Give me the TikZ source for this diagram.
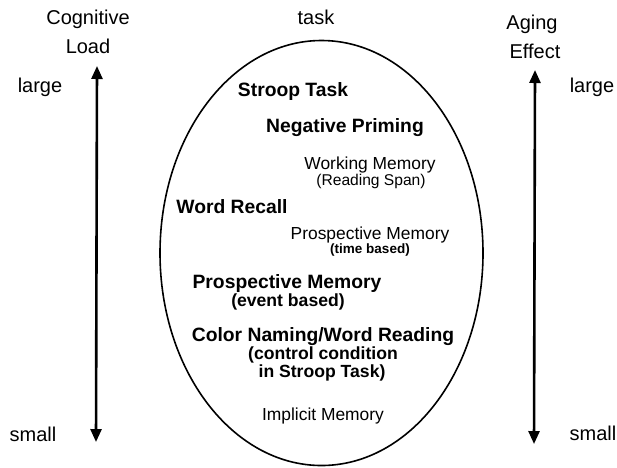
\documentclass[tikz,border=0pt]{standalone}
\usepackage{fontspec}
\setmainfont{Liberation Sans}
\usetikzlibrary{arrows.meta,shapes.geometric}

\begin{document}
\begin{tikzpicture}[x=1pt, y=-1pt,
    axis/.style={line width=2.6pt, {Triangle[length=13pt,width=11pt]}-{Triangle[length=13pt,width=11pt]}},
    head/.style={font=\fontsize{20}{21}\selectfont, inner sep=0pt},
    big/.style={font=\fontsize{19.3}{20}\selectfont\bfseries, inner sep=0pt},
    plain/.style={font=\fontsize{17.4}{18}\selectfont, inner sep=0pt},
    sub/.style={font=\fontsize{17.6}{18}\selectfont\bfseries, inner sep=0pt}]
\useasboundingbox (0,0) rectangle (617,467);

% the set of tasks
\node[shape=ellipse, draw, line width=1.6pt, minimum width=323pt, minimum height=425pt, inner sep=0pt] (tasks) at (321.5,253) {};
\node[head] (taskname) at (316,17) {task};

% cognitive load scale
\node[head] (cl1) at (88,19) {Cognitive};
\node[head] (cl2) at (88,46) {Load};
\node[head] (cllarge) at (40,87) {large};
\node[head] (clsmall) at (33,434) {small};
\coordinate (cltop) at (97,66);
\coordinate (clbot) at (96,442);
\draw[axis] (cltop) -- (clbot);

% aging effect scale
\node[head] (ae1) at (532,24) {Aging};
\node[head] (ae2) at (535,51) {Effect};
\node[head] (aelarge) at (592,87) {large};
\node[head] (aesmall) at (593,433) {small};
\coordinate (aetop) at (535,70);
\coordinate (aebot) at (534,444);
\draw[axis] (aetop) -- (aebot);

% tasks inside
\node[big] (stroop) at (293,92) {Stroop Task};
\node[big] (negprim) at (345,128) {Negative Priming};
\node[plain] (wm) at (370,165) {Working Memory};
\node[plain, font=\fontsize{15.6}{16}\selectfont] (wmsub) at (371,181) {(Reading Span)};
\node[big] (recall) at (232,207) {Word Recall};
\node[plain] (pmtime) at (370,235) {Prospective Memory};
\node[sub, font=\fontsize{13.5}{15}\selectfont\bfseries] (pmtimesub) at (370,250) {(time based)};
\node[big] (pmevent) at (287,283) {Prospective Memory};
\node[sub] (pmeventsub) at (288,302) {(event based)};
\node[big] (naming) at (323,337) {Color Naming/Word Reading};
\node[sub] (ctrl1) at (323,355) {(control condition};
\node[sub] (ctrl2) at (322,373) {in Stroop Task)};
\node[plain] (implicit) at (323,416) {Implicit Memory};
\end{tikzpicture}
\end{document}
